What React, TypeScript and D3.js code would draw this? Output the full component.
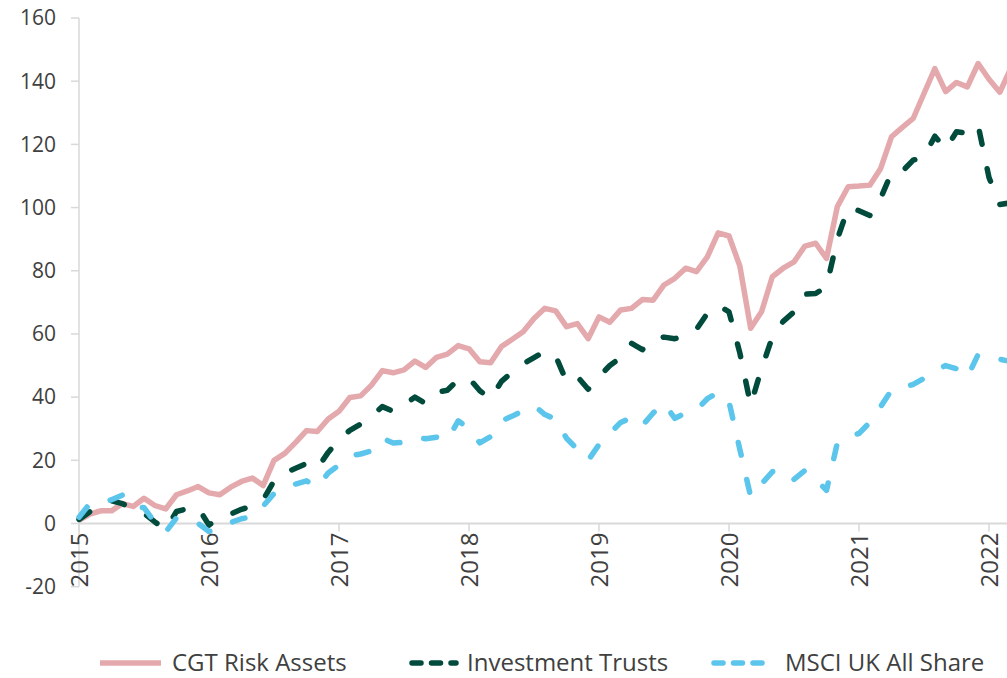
import React from "react";
import * as d3 from "d3";

// monthly values, Jan 2015 .. Mar 2022
const cgtRisk = [
  1.0, 3.0, 4.0, 4.0, 6.3, 5.4, 8.0, 5.7, 4.6, 9.1, 10.3, 11.7,
  9.7, 9.1, 11.5, 13.3, 14.4, 12.0, 20.0, 22.2, 25.7, 29.4, 29.1, 33.1,
  35.5, 39.9, 40.4, 43.8, 48.4, 47.7, 48.6, 51.4, 49.4, 52.6, 53.6, 56.3,
  55.3, 51.2, 50.9, 56.0, 58.3, 60.7, 64.9, 68.1, 67.3, 62.3, 63.3, 58.5,
  65.4, 63.7, 67.6, 68.1, 70.9, 70.7, 75.5, 77.6, 80.8, 79.7, 84.4, 92.0,
  91.0, 81.5, 61.8, 67.0, 78.1, 80.8, 82.8, 87.8, 88.7, 83.9, 100.3, 106.6,
  106.8, 107.1, 112.4, 122.4, 125.4, 128.2, 136.1, 144.0, 136.7, 139.6, 138.2, 145.6,
  140.6, 136.5, 144.0,
];

const investmentTrusts = [
  1.3, 3.7, 5.0, 7.2, 6.3, 4.6, 3.2, 0.5, -1.8, 3.8, 4.7, 5.0,
  -0.5, 2.0, 3.0, 4.5, 5.5, 7.5, 13.5, 16.0, 17.5, 19.0, 17.5, 22.5,
  26.5, 29.5, 31.5, 34.0, 37.0, 35.5, 37.5, 40.0, 38.0, 41.5, 42.2, 45.5,
  46.0, 42.0, 39.5, 45.0, 48.0, 50.5, 52.5, 54.5, 53.0, 45.0, 46.5, 42.5,
  46.5, 50.0, 52.5, 57.0, 55.0, 58.5, 59.0, 58.5, 59.5, 61.5, 66.5, 69.0,
  67.0, 54.0, 37.5, 49.0, 59.0, 64.0, 67.0, 72.6, 72.8, 75.0, 90.0, 100.0,
  99.0, 97.5, 103.0, 111.0, 111.5, 115.0, 116.0, 122.6, 118.5, 124.0, 123.5, 126.0,
  109.5, 101.0, 101.5,
];

const msciUk = [
  2.0, 6.3, 6.8, 7.5, 9.0, 5.5, 5.0, 0.4, -2.7, 1.8, 1.0, 0.0,
  -2.5, -2.0, 0.3, 1.5, 2.2, 5.5, 9.5, 11.5, 12.5, 13.5, 11.5, 16.0,
  18.5, 21.5, 22.0, 23.0, 27.0, 25.5, 25.7, 27.3, 26.8, 27.3, 26.4, 32.5,
  30.0, 25.5, 27.5, 32.5, 34.0, 35.7, 37.3, 34.5, 33.0, 27.0, 23.5, 20.0,
  25.0, 28.5, 32.0, 33.5, 31.0, 35.0, 38.0, 33.3, 35.0, 36.0, 39.5, 41.5,
  38.5, 23.5, 8.5, 12.5, 16.4, 17.0, 14.0, 16.8, 14.0, 10.5, 25.5, 27.5,
  28.5, 32.0, 37.0, 42.2, 43.2, 44.0, 46.0, 48.4, 50.0, 49.0, 46.3, 53.5,
  52.8, 52.0, 51.3,
];

const yearLabels = ["2015", "2016", "2017", "2018", "2019", "2020", "2021", "2022"];
const yTicks = [-20, 0, 20, 40, 60, 80, 100, 120, 140, 160];

const series = [
  { name: "CGT Risk Assets", values: cgtRisk, color: "#E4A9AC", dash: null, lx: 100, lx2: 161, tx: 172 },
  { name: "Investment Trusts", values: investmentTrusts, color: "#004B3C", dash: "13 25", lx: 412, lx2: 456, tx: 467 },
  { name: "MSCI UK All Share", values: msciUk, color: "#5CC5EB", dash: "13 25", lx: 714, lx2: 770, tx: 785 },
];

const W = 1007;
const H = 678;
const font = "'Open Sans', 'Noto Sans', sans-serif";
const textColor = "#404040";
const axisColor = "#D9D9D9";

export default function App() {
  const x = d3.scaleLinear().domain([0, 84]).range([79, 989]);
  const y = d3.scaleLinear().domain([-20, 160]).range([586.7, 18]);

  const line = d3
    .line<number>()
    .x((_, i) => x(i))
    .y((d) => y(d));

  const y0 = y(0);

  return (
    <svg
      width={W}
      height={H}
      style={{ position: "absolute", left: 0, top: 0, background: "#fff" }}
      fontFamily={font}
    >
      {/* y axis */}
      <line x1={x(0)} x2={x(0)} y1={y(160)} y2={y(-20)} stroke={axisColor} strokeWidth={1.5} />
      {yTicks.map((t) => (
        <g key={t}>
          <line x1={x(0) - 8} x2={x(0)} y1={y(t)} y2={y(t)} stroke={axisColor} strokeWidth={1.5} />
          <text x={56} y={y(t)} dy="0.35em" textAnchor="end" fontSize={21} fill={textColor}>
            {t}
          </text>
        </g>
      ))}

      {/* x axis at zero */}
      <line x1={x(0)} x2={W} y1={y0} y2={y0} stroke={axisColor} strokeWidth={2} />
      {yearLabels.map((lab, k) => (
        <g key={lab}>
          <line x1={x(k * 12)} x2={x(k * 12)} y1={y0} y2={y0 + 8} stroke={axisColor} strokeWidth={1.5} />
          <text
            transform={`translate(${x(k * 12)},${y0 + 9}) rotate(-90)`}
            dy="0.36em"
            textAnchor="end"
            fontSize={24}
            fill={textColor}
          >
            {lab}
          </text>
        </g>
      ))}

      {/* series */}
      {series.map((s) => (
        <path
          key={s.name}
          d={line(s.values) || ""}
          fill="none"
          stroke={s.color}
          strokeWidth={5.5}
          strokeLinejoin="round"
          strokeLinecap={s.dash ? "round" : "butt"}
          strokeDasharray={s.dash || undefined}
        />
      ))}

      {/* legend */}
      {series.map((s) => (
        <g key={s.name + "-legend"}>
          <line
            x1={s.lx}
            x2={s.lx2}
            y1={663}
            y2={663}
            stroke={s.color}
            strokeWidth={5.5}
            strokeLinecap={s.dash ? "round" : "butt"}
            strokeDasharray={s.dash ? "9 10.5" : undefined}
          />
          <text x={s.tx} y={663} dy="0.35em" fontSize={24} fill={textColor}>
            {s.name}
          </text>
        </g>
      ))}
    </svg>
  );
}
